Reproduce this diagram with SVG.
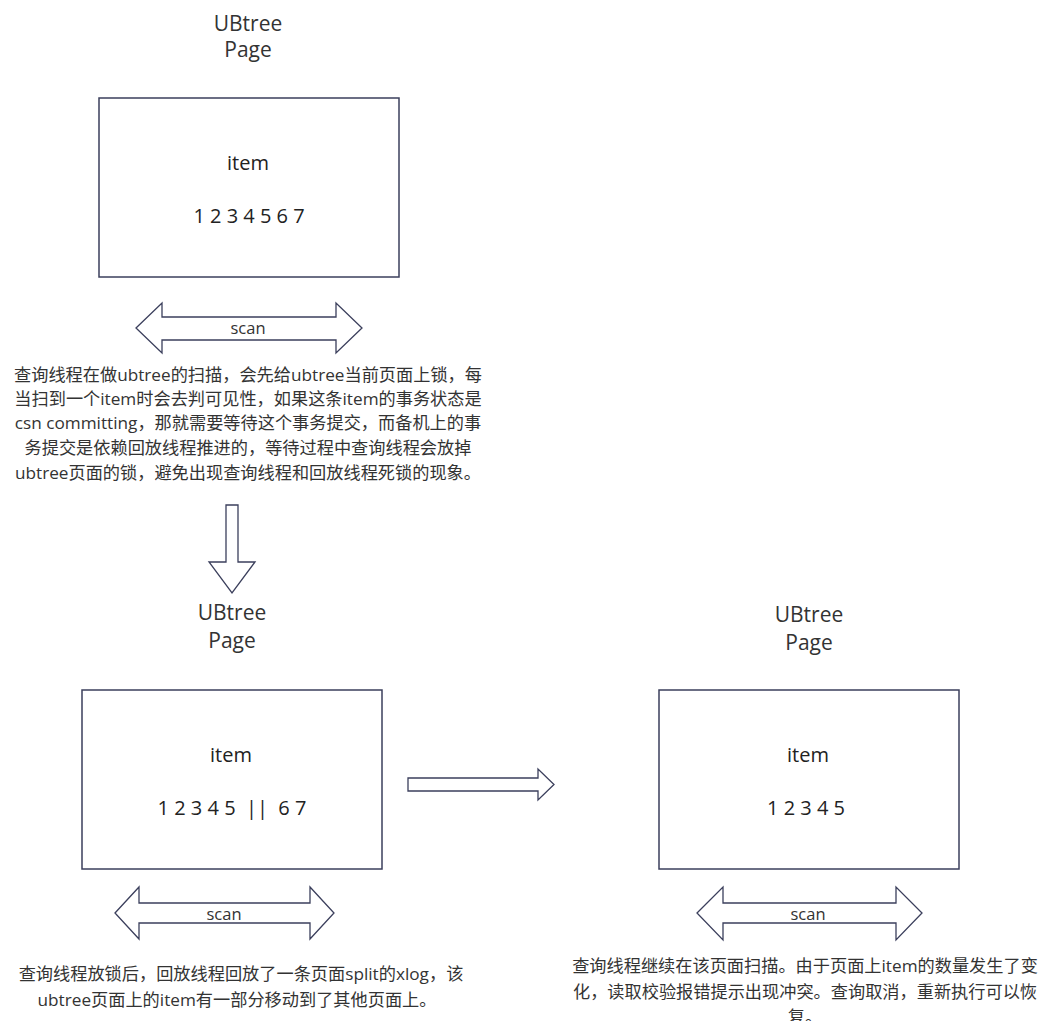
<svg xmlns="http://www.w3.org/2000/svg" width="1055" height="1021" viewBox="0 0 1055 1021">
<style>
.bg{fill:#fff}
.box{fill:#fff;stroke:#3b3f5c;stroke-width:1.5}
.arr{fill:#fff;stroke:#3b3f5c;stroke-width:1.3;stroke-linejoin:miter}
.title{font-family:"Open Sans","Noto Sans CJK SC",sans-serif;font-size:21px;fill:#333;text-anchor:middle}
.item{font-family:"Open Sans","Noto Sans CJK SC",sans-serif;font-size:20px;fill:#222;text-anchor:middle}
.nums{font-family:"Open Sans","Noto Sans CJK SC",sans-serif;font-size:20px;fill:#222;text-anchor:middle}
.scan{font-family:"Open Sans","Noto Sans CJK SC",sans-serif;font-size:16.5px;fill:#333;text-anchor:middle}
.para{font-family:"Open Sans","Noto Sans CJK SC",sans-serif;font-size:17.2px;fill:#333;text-anchor:middle}
</style>
<rect class="bg" x="0" y="0" width="1055" height="1021"/>
<g id="page1">
<text class="title" x="248" y="31">UBtree</text>
<text class="title" x="248" y="57">Page</text>
<rect class="box" x="99" y="98" width="300" height="179"/>
<text class="item" x="248" y="170">item</text>
<text class="nums" x="249" y="223">1 2 3 4 5 6 7</text>
</g>
<g id="page2">
<text class="title" x="232" y="620">UBtree</text>
<text class="title" x="232" y="648">Page</text>
<rect class="box" x="82" y="690" width="300" height="179"/>
<text class="item" x="231" y="762">item</text>
<text class="nums" x="232" y="815" xml:space="preserve">1 2 3 4 5  ||  6 7</text>
</g>
<g id="page3">
<text class="title" x="809" y="622">UBtree</text>
<text class="title" x="809" y="650">Page</text>
<rect class="box" x="659" y="690" width="300" height="179"/>
<text class="item" x="808" y="762">item</text>
<text class="nums" x="806" y="815">1 2 3 4 5</text>
</g>
<g id="scan1">
<path class="arr" d="M136,328 L162,303 L162,317 L336,317 L336,303 L362,328 L336,353 L336,340 L162,340 L162,353 Z"/>
<text class="scan" x="248" y="334">scan</text>
</g>
<g id="scan2">
<path class="arr" d="M115,913 L139,887 L139,903 L310,903 L310,887 L334,913 L310,939 L310,923 L139,923 L139,939 Z"/>
<text class="scan" x="224" y="920">scan</text>
</g>
<g id="scan3">
<path class="arr" d="M697,913 L723,887 L723,903 L896,903 L896,887 L922,913 L896,940 L896,923 L723,923 L723,940 Z"/>
<text class="scan" x="808" y="920">scan</text>
</g>
<g id="note1">
<text class="para" x="248" y="381">查询线程在做ubtree的扫描，会先给ubtree当前页面上锁，每</text>
<text class="para" x="248" y="405">当扫到一个item时会去判可见性，如果这条item的事务状态是</text>
<text class="para" x="248" y="429">csn committing，那就需要等待这个事务提交，而备机上的事</text>
<text class="para" x="248" y="454">务提交是依赖回放线程推进的，等待过程中查询线程会放掉</text>
<text class="para" x="248" y="479">ubtree页面的锁，避免出现查询线程和回放线程死锁的现象。</text>
</g>
<g id="note2">
<text class="para" x="241" y="980">查询线程放锁后，回放线程回放了一条页面split的xlog，该</text>
<text class="para" x="237" y="1006">ubtree页面上的item有一部分移动到了其他页面上。</text>
</g>
<g id="note3">
<text class="para" x="805" y="972">查询线程继续在该页面扫描。由于页面上item的数量发生了变</text>
<text class="para" x="805" y="998">化，读取校验报错提示出现冲突。查询取消，重新执行可以恢</text>
<text class="para" x="805" y="1023">复。</text>
</g>
<g id="connectors">
<path class="arr" d="M226,505 L238,505 L238,562 L255,562 L232,593 L209,562 L226,562 Z"/>
<path class="arr" d="M408,778 L538,778 L538,769 L554,784.5 L538,800 L538,791 L408,791 Z"/>
</g>
</svg>
